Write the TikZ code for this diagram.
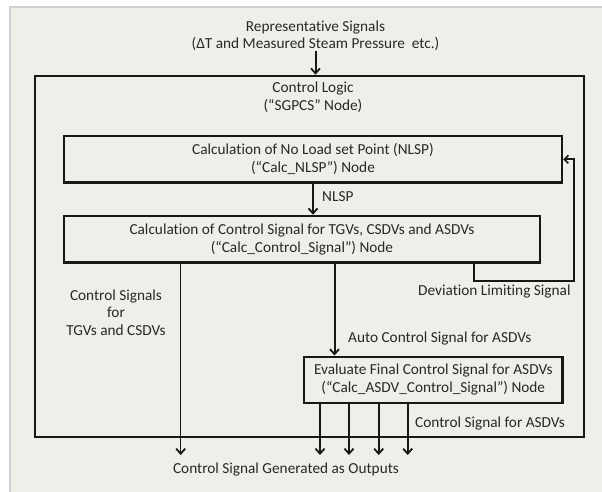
\documentclass[tikz,border=0pt]{standalone}
\usepackage{fontspec}
\setmainfont{Carlito}[Ligatures=NoCommon]
\usetikzlibrary{arrows.meta}
\definecolor{panel}{RGB}{237,240,232}
\definecolor{ink}{RGB}{22,24,22}
\definecolor{txt}{RGB}{40,40,40}
\begin{document}
\begin{tikzpicture}[x=1pt,y=-1pt,
  txtfont/.style={font=\fontsize{15.3}{17.8}\selectfont, text=txt, align=center, inner sep=0pt},
  blockbox/.style={draw=ink, line width=2.4pt, txtfont, inner sep=0pt},
  outerbox/.style={draw=ink, line width=2pt},
  sig/.style={draw=ink, line width=2pt, -{Straight Barb[length=5pt,width=9pt,line width=1.8pt]}},
  thinsig/.style={draw=ink, line width=1.2pt, -{Straight Barb[length=5pt,width=9pt,line width=1.8pt]}},
  loopline/.style={draw=ink, line width=2pt, -{Straight Barb[length=4pt,width=8pt,line width=1.6pt]}},
  lbl/.style={txtfont}
]
\useasboundingbox (0,0) rectangle (602,492);
% page and panel
\fill[white] (0,0) rectangle (602,492);
\fill[panel] (10,7) rectangle (602,492);
\draw[black!18, line width=1.5pt] (10,492) -- (10,7) -- (602,7);

% outer control logic frame
\node[outerbox, minimum width=549.5pt, minimum height=360.8pt, inner sep=0pt] (outer) at (309.25,256.1) {};
\node[lbl] (ctrl) at (313,97) {Control Logic\\(“SGPCS” Node)};

% input signals
\node[lbl] (rep) at (315.5,35.8) {Representative Signals\\(ΔT and Measured Steam Pressure\ \ etc.)};

% processing blocks
\node[blockbox, minimum width=498pt, minimum height=46.7pt] (nlsp) at (313,159.3)
  {Calculation of No Load set Point (NLSP)\\(“Calc\_NLSP”) Node};
\node[blockbox, minimum width=476pt, minimum height=46.7pt] (calc) at (302,239.3)
  {Calculation of Control Signal for TGVs, CSDVs and ASDVs\\(“Calc\_Control\_Signal”) Node};
\node[blockbox, minimum width=258.7pt, minimum height=46pt] (eval) at (433.3,379.7)
  {Evaluate Final Control Signal for ASDVs\\(“Calc\_ASDV\_Control\_Signal”) Node};

% connector end points
\coordinate (autoX) at (334.5,0);
\coordinate (outL) at (180.7,455);
\coordinate (o1) at (320,455);
\coordinate (o2) at (349,455);
\coordinate (o3) at (378.7,455);
\coordinate (o4) at (407.7,455);
\coordinate (fb1) at (474.3,280.7);
\coordinate (fb2) at (573.7,280.7);

% connectors
\draw[sig] (rep.south) -- (rep.south |- outer.north);
\draw[sig] (nlsp.south) -- (nlsp.south |- calc.north);
\draw[sig] (calc.south -| autoX) -- (eval.north -| autoX);
\draw[thinsig] (calc.south -| outL) -- (outL);
\foreach \o in {o1,o2,o3,o4}
  \draw[sig] (eval.south -| \o) -- (\o);
\draw[loopline] (calc.south -| fb1) -- (fb1) -- (fb2) -- (fb2 |- nlsp.east) -- (nlsp.east);

% labels
\node[lbl, anchor=west] (nlspl) at (322,196.7) {NLSP};
\node[lbl] (tgv) at (116,312.7) {Control Signals\\for\\TGVs and CSDVs};
\node[lbl, anchor=east] (dev) at (570.8,291.7) {Deviation Limiting Signal};
\node[lbl, anchor=west] (auto) at (348,338) {Auto Control Signal for ASDVs};
\node[lbl, anchor=west] (asdv) at (415,423.3) {Control Signal for ASDVs};
\node[lbl] (gen) at (286,469) {Control Signal Generated as Outputs};
\end{tikzpicture}
\end{document}
